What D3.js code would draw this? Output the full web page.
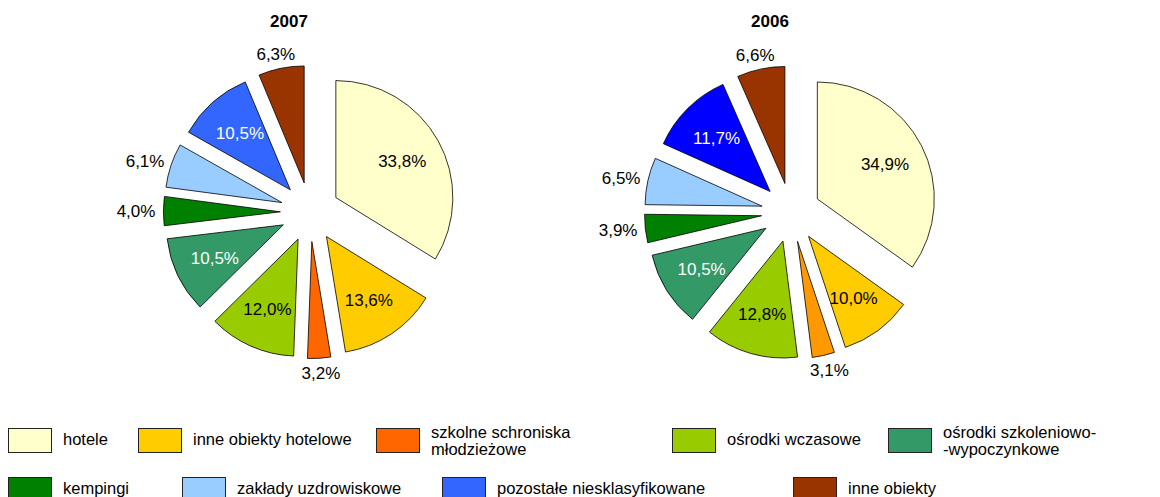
<!DOCTYPE html>
<html><head><meta charset="utf-8">
<script src="https://cdn.jsdelivr.net/npm/d3@7"></script>
<style>
html,body{margin:0;padding:0;background:#fff;}
svg{display:block;font-family:Arial,"Liberation Sans",sans-serif;}
</style></head>
<body>
<svg id="chart" width="1160" height="497"></svg>
<script>
// ---- data ----
const categories = ["hotele","inne obiekty hotelowe","szkolne schroniska młodzieżowe","ośrodki wczasowe","ośrodki szkoleniowo-wypoczynkowe","kempingi","zakłady uzdrowiskowe","pozostałe niesklasyfikowane","inne obiekty"];
const years = ["2007","2006"];
const values2007 = [33.8,13.6,3.2,12.0,10.5,4.0,6.1,10.5,6.3];
const values2006 = [34.9,10.0,3.1,12.8,10.5,3.9,6.5,11.7,6.6];
const legendLines = [["hotele"],["inne obiekty hotelowe"],["szkolne schroniska","młodzieżowe"],["ośrodki wczasowe"],["ośrodki szkoleniowo-","-wypoczynkowe"],["kempingi"],["zakłady uzdrowiskowe"],["pozostałe niesklasyfikowane"],["inne obiekty"]];

// ---- styles ----
const colors2007 = ["#FFFFCC","#FFCC00","#FF6600","#99CC00","#339966","#008000","#99CCFF","#3366FF","#993300"];
const colors2006 = ["#FFFFCC","#FFCC00","#FF9900","#99CC00","#339966","#008000","#99CCFF","#0000FF","#993300"];
const whiteLabel = [false,false,false,false,true,false,false,true,false];

// ---- layout ----
const pieCenters = [[310,212],[791,212.5]];
const R = 117, EXPLODE = 29.6;
const legendPos = [[8,428],[138,428],[376,428],[672,428],[888,428],[8,477],[182,477],[442,477],[793,477]];

const svg = d3.select("#chart");
const fmt = v => d3.format(".1f")(v).replace(".", ",") + "%";
const pie = d3.pie().sort(null).value(d => d.v);
const arc = d3.arc().innerRadius(0).outerRadius(R);

const measure = svg.append("text").attr("font-size",17).attr("visibility","hidden");
function textW(s){ measure.text(s); return measure.node().getComputedTextLength(); }

[values2007, values2006].forEach((vals, yi) => {
  const [cx, cy] = pieCenters[yi];
  const cols = yi === 0 ? colors2007 : colors2006;
  const data = vals.map((v,i) => ({v, i}));
  const g = svg.append("g").attr("transform", `translate(${cx},${cy})`);
  svg.append("text").attr("x", cx - 21).attr("y", 27).attr("text-anchor","middle")
    .attr("font-weight","bold").attr("font-size",17).text(years[yi]);
  pie(data).forEach(d => {
    const mid = (d.startAngle + d.endAngle) / 2;
    const dx = Math.sin(mid), dy = -Math.cos(mid);
    const ox = dx * EXPLODE, oy = dy * EXPLODE;
    const sg = g.append("g").attr("transform", `translate(${ox},${oy})`);
    sg.append("path").attr("d", arc(d)).attr("fill", cols[d.data.i])
      .attr("stroke","#000").attr("stroke-width",0.8).attr("stroke-linejoin","miter");
    const label = fmt(d.data.v);
    let lx, ly;
    if (d.data.v < 7) {
      const w = textW(label), h = 13;
      const rr = R + 8;
      lx = dx*rr + dx*w/2; ly = dy*rr + dy*h/2 + 6;
    } else {
      const rr = R * 0.65;
      lx = dx*rr; ly = dy*rr + 6;
    }
    sg.append("text").attr("x", lx).attr("y", ly).attr("text-anchor","middle")
      .attr("font-size",17).attr("fill", (d.data.v >= 7 && whiteLabel[d.data.i]) ? "#fff" : "#000")
      .text(label);
  });
});

// legend
const lg = svg.append("g");
categories.forEach((c, i) => {
  const [x, y] = legendPos[i];
  lg.append("rect").attr("x", x+0.5).attr("y", y+0.5).attr("width",43).attr("height",24)
    .attr("fill", colors2007[i]).attr("stroke","#222").attr("stroke-width",1);
  const lines = legendLines[i];
  const t = lg.append("text").attr("font-size",16.5).attr("fill","#000");
  if (lines.length === 1) {
    t.append("tspan").attr("x", x+55).attr("y", y+17).text(lines[0]);
  } else {
    lines.forEach((l, k) => t.append("tspan").attr("x", x+55).attr("y", y+10+k*17).text(l));
  }
});
measure.remove();
</script>
</body></html>
